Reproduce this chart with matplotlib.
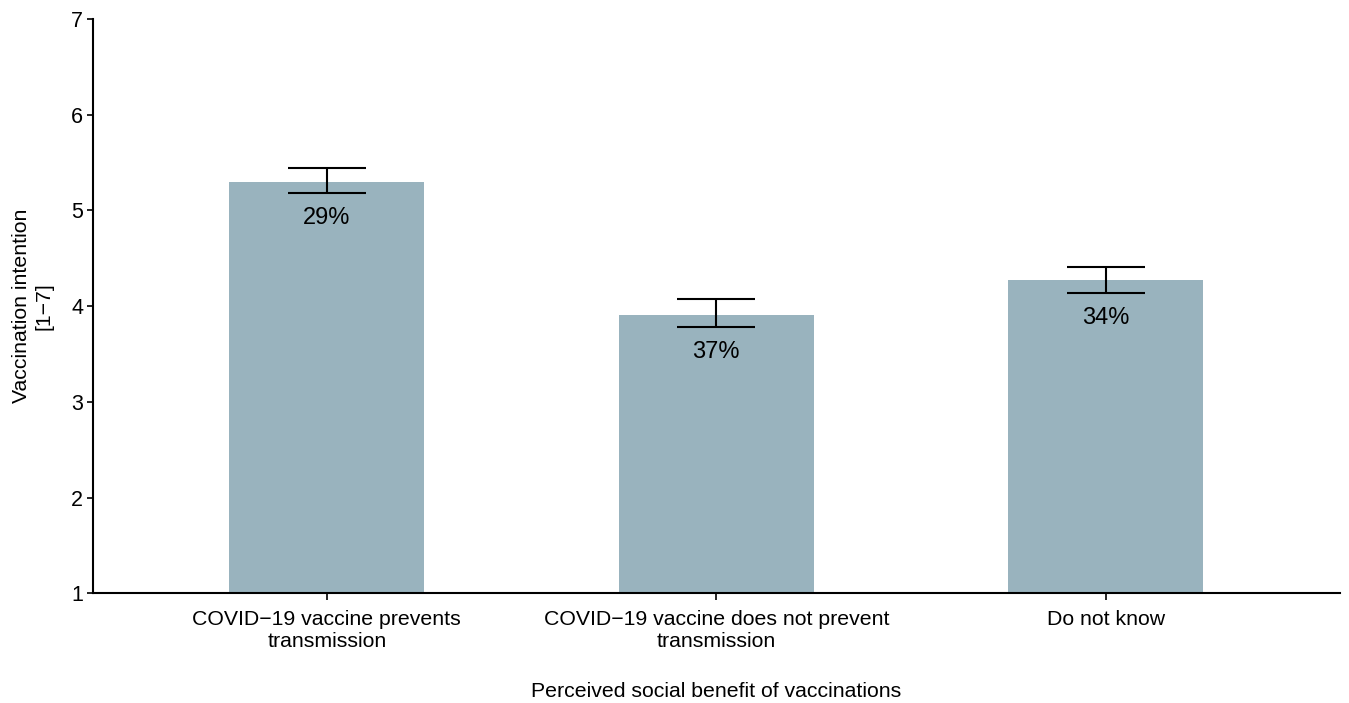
import matplotlib
matplotlib.use("Agg")
import matplotlib.pyplot as plt
import numpy as np

categories = ["COVID\u221219 vaccine prevents\ntransmission",
              "COVID\u221219 vaccine does not prevent\ntransmission",
              "Do not know"]
means = [5.30, 3.91, 4.27]
err_low = [5.18, 3.78, 4.14]
err_high = [5.44, 4.07, 4.41]
pct_labels = ["29%", "37%", "34%"]
yticks = [1, 2, 3, 4, 5, 6, 7]

plt.rcParams['font.family'] = ['Liberation Sans', 'DejaVu Sans']

fig = plt.figure(figsize=(13.49, 7.03), dpi=100)
ax = fig.add_axes([0.069, 0.156, 0.924, 0.817])

x = np.arange(len(categories))
bottom = 1
heights = [m - bottom for m in means]
ax.bar(x, heights, bottom=bottom, width=0.5, color="#99B3BE", zorder=1)

yerr = np.array([[m - lo for m, lo in zip(means, err_low)],
                 [hi - m for m, hi in zip(means, err_high)]])
ax.errorbar(x, means, yerr=yerr, fmt='none', ecolor='black', elinewidth=1.5,
            capsize=28, capthick=1.5, zorder=3)

for xi, lo, lab in zip(x, err_low, pct_labels):
    ax.annotate(lab, xy=(xi, lo), xytext=(0, -10), textcoords='offset points',
                ha='center', va='top', fontsize=17, color='black')

ax.set_xlim(-0.6, 2.6)
ax.set_ylim(1, 7)
ax.set_yticks(yticks)
ax.set_xticks(x)
ax.set_xticklabels(categories, fontsize=15.3)
ax.tick_params(axis='y', labelsize=15.5, length=4, width=1.2, pad=3)
ax.tick_params(axis='x', length=5, width=1.2, pad=7)

for s in ['top', 'right']:
    ax.spines[s].set_visible(False)
for s in ['left', 'bottom']:
    ax.spines[s].set_linewidth(1.5)

ax.set_ylabel("Vaccination intention\n[1\u22127]", fontsize=15.3, labelpad=13)
ax.set_xlabel("Perceived social benefit of vaccinations", fontsize=15.3, labelpad=22)

fig.savefig("out.png", dpi=100)
